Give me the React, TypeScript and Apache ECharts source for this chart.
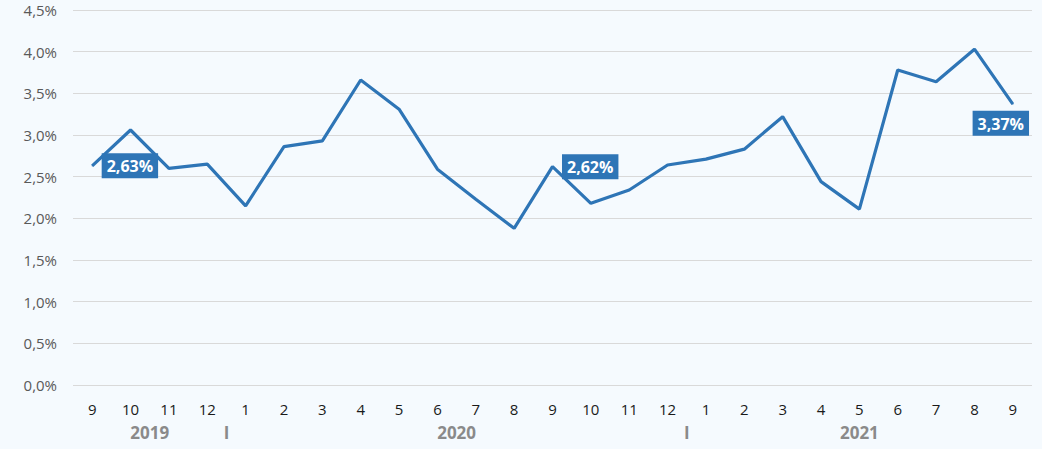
import React, { useEffect, useRef } from "react";
import * as echarts from "echarts";

const months = ["9","10","11","12","1","2","3","4","5","6","7","8","9","10","11","12","1","2","3","4","5","6","7","8","9"];
const values = [2.63,3.06,2.60,2.65,2.15,2.86,2.93,3.66,3.31,2.59,2.23,1.88,2.62,2.18,2.34,2.64,2.71,2.83,3.22,2.44,2.11,3.78,3.64,4.03,3.37];
const labeledIdx = [0, 12, 24];
const yearLabels: [number, string][] = [[1.5, "2019"], [3.5, "I"], [9.5, "2020"], [15.5, "I"], [20, "2021"]];
const yTicks = { min: 0, max: 4.5, interval: 0.5 };

const FONT = "'Open Sans', 'Noto Sans', sans-serif";
const BLUE = "#2E75B6";

export default function App() {
  const ref = useRef<HTMLDivElement>(null);
  useEffect(() => {
    if (!ref.current) return;
    const chart = echarts.init(ref.current, undefined, { renderer: "svg" });
    const fmt = (v: number) => v.toFixed(2).replace(".", ",") + "%";
    const data = values.map((v, i) => {
      if (!labeledIdx.includes(i)) return v;
      const last = i === values.length - 1;
      return {
        value: v,
        label: {
          show: true,
          position: last ? "bottom" : "right",
          distance: last ? 6 : 9,
          offset: last ? [-12, 0] : [0, 0],
          formatter: () => fmt(v),
          color: "#fff",
          fontWeight: "bold",
          fontSize: 16,
          lineHeight: 18,
          fontFamily: FONT,
          backgroundColor: BLUE,
          padding: [4, 5, 3, 5],
        },
      };
    });
    const yearMap = new Map(yearLabels.map(([p, t]) => [p, t]));
    chart.setOption({
      animation: false,
      backgroundColor: "#F5FAFE",
      grid: { left: 73, right: 10, top: 10, bottom: 64, containLabel: false },
      xAxis: [
        {
          type: "category",
          data: months,
          boundaryGap: true,
          axisLine: { show: false },
          axisTick: { show: false },
          axisLabel: { color: "#1a1a1a", fontSize: 15, fontFamily: FONT, margin: 16, interval: 0 },
        },
        {
          type: "value",
          min: -0.5,
          max: months.length - 0.5,
          position: "bottom",
          offset: 24,
          axisLine: { show: false },
          axisTick: { show: false },
          splitLine: { show: false },
          axisLabel: {
            customValues: yearLabels.map((y) => y[0]),
            formatter: (v: number) => yearMap.get(v) ?? "",
            color: "#8a8a8a",
            fontWeight: "bold",
            fontSize: 17,
            fontFamily: FONT,
            margin: 15,
            showMinLabel: true,
            showMaxLabel: true,
          },
        },
      ],
      yAxis: {
        type: "value",
        min: yTicks.min,
        max: yTicks.max,
        interval: yTicks.interval,
        axisLabel: {
          formatter: (v: number) => v.toFixed(1).replace(".", ",") + "%",
          color: "#595959",
          fontSize: 15,
          fontFamily: FONT,
          margin: 16,
        },
        axisLine: { show: false },
        axisTick: { show: false },
        splitLine: { lineStyle: { color: "#D9D9D9", width: 1 } },
      },
      series: [
        {
          type: "line",
          xAxisIndex: 0,
          data,
          symbol: "circle",
          symbolSize: 1,
          showSymbol: true,
          showAllSymbol: true,
          lineStyle: { color: BLUE, width: 3.2 },
          itemStyle: { color: BLUE },
          z: 3,
        },
      ],
    });
    return () => chart.dispose();
  }, []);
  return <div ref={ref} style={{ position: "fixed", left: 0, top: 0, width: 1042, height: 449 }} />;
}
